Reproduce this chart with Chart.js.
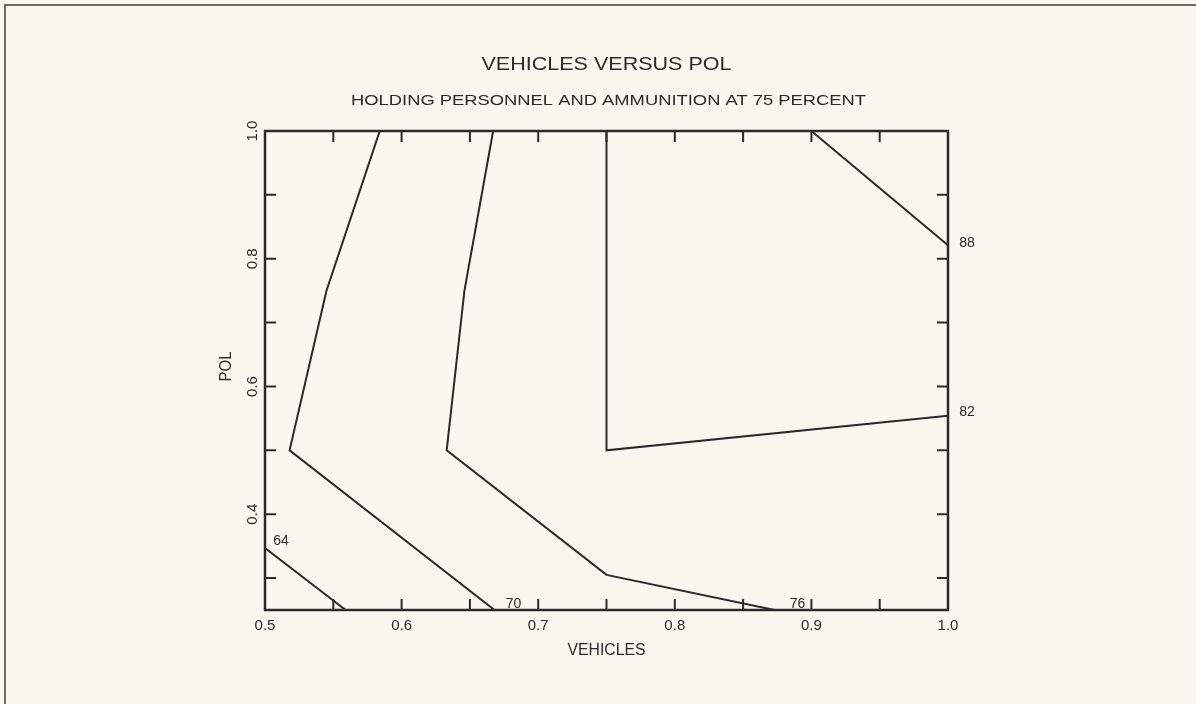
<!DOCTYPE html>
<html>
<head>
<meta charset="utf-8">
<title>Vehicles versus POL</title>
<script src="https://cdn.jsdelivr.net/npm/chart.js@4/dist/chart.umd.min.js"></script>
<style>
  html, body { margin: 0; padding: 0; background: #f8f8f1; }
  #wrap { width: 1196px; height: 704px; position: relative; }
</style>
</head>
<body>
<div id="wrap"><canvas id="contourChart"></canvas></div>
<script>
// contour levels and their traced vertices (VEHICLES, POL)
const levels = ['64', '70', '76', '82', '88'];
const c64x = [0.500, 0.559];
const c64y = [0.347, 0.250];
const c70x = [0.584, 0.545, 0.518, 0.668];
const c70y = [1.000, 0.750, 0.500, 0.250];
const c76x = [0.667, 0.646, 0.633, 0.750, 0.873];
const c76y = [1.000, 0.750, 0.500, 0.305, 0.250];
const c82x = [0.750, 0.750, 1.000];
const c82y = [1.000, 0.500, 0.554];
const c88x = [0.900, 1.000];
const c88y = [1.000, 0.821];

// axes
const xMin = 0.5, xMax = 1.0;
const yMin = 0.25, yMax = 1.0;
const xTicks = [0.55, 0.6, 0.65, 0.7, 0.75, 0.8, 0.85, 0.9, 0.95];
const xTickLabels = ['0.5', '0.6', '0.7', '0.8', '0.9', '1.0'];
const yTicks = [0.3, 0.4, 0.5, 0.6, 0.7, 0.8, 0.9];
const yTickLabels = ['0.4', '0.6', '0.8', '1.0'];

const titleText = 'VEHICLES VERSUS POL';
const subtitleText = 'HOLDING PERSONNEL AND AMMUNITION AT 75 PERCENT';
const xTitle = 'VEHICLES';
const yTitle = 'POL';

const ink = '#2a2a2a';
const contours = [
    { x: c64x, y: c64y },
    { x: c70x, y: c70y },
    { x: c76x, y: c76y },
    { x: c82x, y: c82y },
    { x: c88x, y: c88y }
];

const datasets = contours.map((c, i) => ({
    label: levels[i],
    data: c.x.map((v, k) => ({ x: v, y: c.y[k] })),
    showLine: true,
    borderColor: ink,
    borderWidth: 2,
    pointRadius: 0,
    fill: false,
    tension: 0
}));

// where each level label sits: which vertex, and pixel nudge from it
const labelAnchor = [
    { pt: 'first', dx: 16, dy: -7 },
    { pt: 'last', dx: 19, dy: -6 },
    { pt: 'last', dx: 23, dy: -6 },
    { pt: 'last', dx: 19, dy: -4 },
    { pt: 'last', dx: 19, dy: -2 }
];

function fittedText(ctx, text, cx, cy, width) {
    const w = ctx.measureText(text).width;
    ctx.save();
    ctx.translate(cx, cy);
    ctx.scale(width / w, 1);
    ctx.fillText(text, 0, 0);
    ctx.restore();
}

const plotDecor = {
    id: 'plotDecor',
    beforeDraw(chart) {
        const ctx = chart.ctx;
        ctx.save();
        ctx.fillStyle = '#f8f8f1';
        ctx.fillRect(0, 0, chart.width, chart.height);
        // scanned page border
        ctx.strokeStyle = '#6a6a66';
        ctx.lineWidth = 2;
        ctx.beginPath();
        ctx.moveTo(5, chart.height);
        ctx.lineTo(5, 5);
        ctx.lineTo(chart.width, 5);
        ctx.stroke();
        ctx.restore();
    },
    afterDraw(chart) {
        const ctx = chart.ctx;
        const xs = chart.scales.x, ys = chart.scales.y;
        const a = chart.chartArea;
        ctx.save();
        ctx.strokeStyle = ink;
        ctx.fillStyle = ink;

        // frame
        ctx.lineWidth = 2.5;
        ctx.strokeRect(a.left, a.top, a.right - a.left, a.bottom - a.top);

        // inward ticks on all four sides
        const tl = 11;
        ctx.lineWidth = 2;
        ctx.beginPath();
        xTicks.forEach(v => {
            const px = xs.getPixelForValue(v);
            ctx.moveTo(px, a.bottom); ctx.lineTo(px, a.bottom - tl);
            ctx.moveTo(px, a.top); ctx.lineTo(px, a.top + tl);
        });
        yTicks.forEach(v => {
            const py = ys.getPixelForValue(v);
            ctx.moveTo(a.left, py); ctx.lineTo(a.left + tl, py);
            ctx.moveTo(a.right, py); ctx.lineTo(a.right - tl, py);
        });
        ctx.stroke();

        // tick labels
        ctx.font = '15px "Liberation Sans", Arial, sans-serif';
        ctx.textAlign = 'center';
        ctx.textBaseline = 'middle';
        xTickLabels.forEach(t => {
            ctx.fillText(t, xs.getPixelForValue(parseFloat(t)), a.bottom + 16);
        });
        yTickLabels.forEach(t => {
            ctx.save();
            ctx.translate(a.left - 12, ys.getPixelForValue(parseFloat(t)));
            ctx.rotate(-Math.PI / 2);
            ctx.fillText(t, 0, 0);
            ctx.restore();
        });

        // axis titles
        ctx.font = '16px "Liberation Sans", Arial, sans-serif';
        fittedText(ctx, xTitle, (a.left + a.right) / 2, a.bottom + 41, 78);
        ctx.save();
        ctx.translate(a.left - 38, (a.top + a.bottom) / 2 - 4);
        ctx.rotate(-Math.PI / 2);
        fittedText(ctx, yTitle, 0, 0, 30);
        ctx.restore();

        // titles
        ctx.font = '18px "Liberation Sans", Arial, sans-serif';
        fittedText(ctx, titleText, (a.left + a.right) / 2, 65, 250);
        ctx.font = '14px "Liberation Sans", Arial, sans-serif';
        fittedText(ctx, subtitleText, (a.left + a.right) / 2 + 2, 101, 515);

        // contour level labels
        ctx.font = '14px "Liberation Sans", Arial, sans-serif';
        contours.forEach((c, i) => {
            const an = labelAnchor[i];
            const k = an.pt === 'first' ? 0 : c.x.length - 1;
            const px = xs.getPixelForValue(c.x[k]) + an.dx;
            const py = ys.getPixelForValue(c.y[k]) + an.dy;
            ctx.fillText(levels[i], px, py);
        });
        ctx.restore();
    }
};

new Chart(document.getElementById('contourChart'), {
    type: 'scatter',
    data: { datasets: datasets },
    options: {
        responsive: true,
        maintainAspectRatio: false,
        animation: false,
        layout: { padding: { left: 265, right: 248, top: 131, bottom: 94 } },
        scales: {
            x: { type: 'linear', min: xMin, max: xMax, display: false },
            y: { type: 'linear', min: yMin, max: yMax, display: false }
        },
        plugins: {
            legend: { display: false },
            tooltip: { enabled: false },
            title: { display: false }
        }
    },
    plugins: [plotDecor]
});
</script>
</body>
</html>
